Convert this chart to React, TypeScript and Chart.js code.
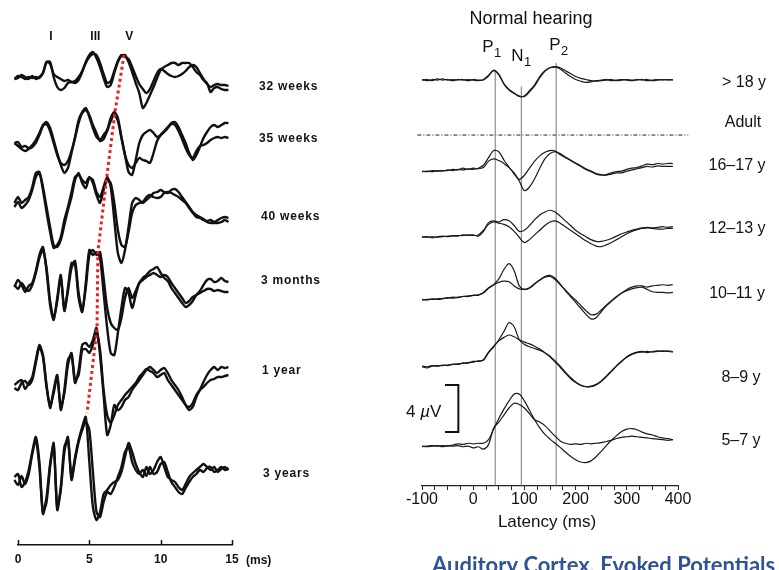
import { useEffect, useRef } from "react";
import { Chart, registerables } from "chart.js";

Chart.register(...registerables);

const FONT = '"Liberation Sans", Arial, Helvetica, sans-serif';

// ---------- Brainstem responses (left panel) ----------
const abrLatencyMs = [
  -0.25, 0, 0.25, 0.5, 0.75, 1, 1.25, 1.5, 1.75, 2, 2.25, 2.5, 2.75, 3, 3.25, 3.5, 3.75, 4, 4.25, 4.5,
  4.75, 5, 5.25, 5.5, 5.75, 6, 6.25, 6.5, 6.75, 7, 7.25, 7.5, 7.75, 8, 8.25, 8.5, 8.75, 9, 9.25, 9.5,
  9.75, 10, 10.25, 10.5, 10.75, 11, 11.25, 11.5, 11.75, 12, 12.25, 12.5, 12.75, 13, 13.25, 13.5, 13.75, 14, 14.25, 14.5,
  14.75,
];
const abrAgeLabels = ["32 weeks", "35 weeks", "40 weeks", "3 months", "1 year", "3 years"];
const abrTicks = [0, 5, 10, 15];
const abrPeakNames = ["I", "III", "V"];
const abrPeakLatency = [2.3, 5.42, 7.79];

const abr32wA = [0, 3, 2, 0, 2, 1, 2, 1, 6, 17, 17, 2, -8, -11, -9, -4, -3, -4, -1, 7, 17, 24, 27, 21, 12, 1, -8, -6, 6, 17, 23, 24, 17, 7, -4, -14, -29, -24, -16, -8, 1, 9, 12, 14, 16, 16, 14, 16, 16, 16, 12, 7, 4, -1, -4, -13, -9, -8, -10, -11, -11];
const abr32wB = [0, 1, 4, 2, 0, 3, 0, 2, 6, 17, 15, 5, 2, 0, -2, -1, -3, -2, 2, 8, 16, 22, 25, 24, 16, 5, -4, -2, 8, 18, 24, 22, 20, 12, 3, -5, -10, -14, -10, -2, 6, 10, 8, 5, 3, 2, 3, 5, 8, 12, 14, 12, 6, 0, -5, -8, -6, -5, -6, -6, -7];
const abr35wA = [0, 1, -4, -3, -5, -2, 3, 10, 18, 21, 15, 3, -10, -22, -30, -25, -10, 6, 23, 31, 35, 26, 15, 6, 3, 8, 13, 25, 31, 25, 6, -12, -29, -32, -17, 0, 8, 11, 13, 10, 6, 8, 11, 15, 20, 21, 16, 8, 0, -10, -17, -12, -4, 5, 11, 16, 18, 16, 18, 20, 20];
const abr35wB = [0, -3, -6, -8, -6, -4, 0, 8, 17, 19, 12, 0, -12, -20, -22, -18, -8, 5, 20, 30, 33, 28, 18, 10, 2, 4, 12, 22, 28, 22, 5, -12, -22, -25, -20, -15, -17, -18, -20, -10, 2, 8, 12, 16, 19, 18, 12, 4, -5, -12, -15, -8, -3, -2, 0, 3, 5, 6, 5, 6, 5];
const abr40wA = [2, 8, 2, 5, 8, 18, 32, 33, 18, -2, -22, -40, -42, -35, -20, -5, 8, 25, 32, 22, 17, 27, 25, 13, 8, 18, 28, 18, -15, -48, -58, -45, -22, 2, 7, 5, 2, 5, 8, 12, 13, 15, 13, 12, 15, 16, 13, 8, 3, -2, -7, -10, -12, -14, -17, -18, -18, -18, -17, -15, -17];
const abr40wB = [-2, 3, -3, 0, 5, 15, 28, 32, 15, -7, -27, -43, -40, -32, -15, -2, 13, 28, 30, 25, 22, 28, 22, 10, 2, 15, 25, 22, 2, -25, -40, -42, -27, -8, 0, 2, 3, 8, 10, 8, 7, 8, 12, 13, 12, 10, 8, 5, 2, -3, -8, -12, -13, -15, -16, -15, -17, -15, -13, -12, -13];
const abr3mA = [-4, 3, -2, -9, -3, 0, 12, 28, 36, 12, -22, -37, -15, 8, -28, -5, 20, 18, -15, -29, 0, 33, 28, 31, 25, -10, -45, -70, -72, -50, -25, -5, -10, -25, -12, 0, 5, 8, 12, 14, 16, 10, 5, 2, -5, -10, -15, -20, -24, -22, -18, -12, -8, -2, 3, 4, 1, 2, 5, 2, 1];
const abr3mB = [-2, -6, 0, -5, -8, -2, 10, 25, 33, 15, -18, -35, -18, 5, -26, -8, 15, 22, -10, -27, -5, 28, 33, 28, 31, 5, -25, -40, -45, -47, -35, -15, -5, -15, -8, 0, 3, 6, 8, 10, 8, 6, 8, 6, 0, -5, -10, -15, -20, -18, -14, -12, -10, -8, -6, -6, -8, -7, -8, -9, -9];
const abr1yA = [0, 3, 5, -4, 2, 8, 25, 40, 30, 0, -23, -5, 10, -25, -5, 25, 30, 2, 15, 40, 42, 38, 45, 57, 30, -10, -50, -40, -20, -25, -22, -15, -12, -5, 0, 5, 10, 15, 18, 15, 12, 15, 17, 12, 5, 0, -5, -12, -20, -25, -22, -12, -5, 3, 10, 15, 18, 15, 18, 17, 18];
const abr1yB = [-3, -5, 2, 4, 0, 5, 22, 38, 28, -2, -20, -8, 8, -22, -8, 20, 32, 5, 10, 35, 36, 32, 40, 52, 35, -5, -30, -38, -30, -20, -15, -10, -6, -2, 2, 8, 12, 16, 14, 12, 8, 10, 12, 5, 0, -5, -10, -15, -20, -22, -18, -10, -5, -2, 2, 5, 6, 8, 8, 9, 10];
const abr3yA = [5, 8, -5, 0, 12, 30, 45, 20, -30, -20, 15, 39, -28, -5, 35, 42, 5, 25, 42, 55, 65, 20, -25, -38, -30, -12, -8, -3, 0, 2, 10, 25, 39, 30, 18, 10, 5, 15, 8, 12, 20, 25, 15, 5, 2, 0, -5, -8, -2, 5, 9, 12, 15, 18, 15, 12, 15, 10, 13, 15, 12];
const abr3yB = [2, -3, 6, -2, 8, 28, 42, 15, -32, -15, 18, 36, -25, -8, 30, 45, 2, 22, 40, 52, 60, 52, 10, -30, -35, -20, -10, -12, -5, 5, 15, 30, 35, 20, 12, 8, 12, 6, 15, 8, 10, 18, 20, 10, 0, -5, -10, -12, -6, 0, 5, 8, 12, 10, 14, 15, 10, 12, 15, 12, 14];

// wave V peak of each age group (latency, amplitude)
const abrWaveVLatency = [7.43, 6.8, 6.24, 5.6, 5.54, 4.84];
const abrWaveVAmplitude = [24, 31, 30, 31, 57, 69];

// ---------- Cortical responses (right panel) ----------
const caepLatencyMs = [
  -100, -90, -80, -70, -60, -50, -40, -30, -20, -10, 0, 10, 20, 30, 40, 50, 60, 70, 80, 90,
  100, 110, 120, 130, 140, 150, 160, 170, 180, 190, 200, 210, 220, 230, 240, 250, 260, 270, 280, 290,
  300, 310, 320, 330, 340, 350, 360, 370, 380, 390,
];
const caepAgeLabels = ["> 18 y", "16–17 y", "12–13 y", "10–11 y", "8–9 y", "5–7 y"];
const caepComponentNames = ["P1", "N1", "P2"];
const caepComponentLatency = [43, 94, 162];
const caepComponentTop = [35.4, 34.0, 36.0];
const caepTicks = [-100, 0, 100, 200, 300, 400];

const caepAdultA = [0, 0.05, -0.05, 0.1, 0, 0.05, -0.05, 0.05, 0, 0.05, 0, -0.05, 0.05, 0.4, 0.85, 0.5, -0.3, -0.8, -1.1, -1.4, -1.35, -0.9, -0.4, 0.3, 0.8, 1.05, 1.1, 0.95, 0.6, 0.3, 0.05, -0.1, -0.2, -0.15, -0.05, 0, 0.05, -0.05, 0, 0.05, 0, -0.05, 0.05, 0, 0.05, -0.05, 0, 0.05, 0, 0.05];
const caepAdultB = [0.05, -0.05, 0.05, 0, 0.1, 0, 0.05, 0, 0.05, -0.05, 0.05, 0, 0, 0.35, 0.8, 0.45, -0.35, -0.85, -1.15, -1.35, -1.4, -1.0, -0.5, 0.2, 0.75, 1.05, 1.15, 1.05, 0.8, 0.55, 0.3, 0.15, 0.05, -0.05, -0.1, -0.05, 0, 0.05, -0.05, 0, 0.05, 0, 0, 0.05, -0.05, 0, 0.05, 0, 0.05, 0];
const caep1617A = [0, 0.05, 0, 0.1, 0.05, 0.15, 0.1, 0.2, 0.15, 0.25, 0.2, 0.3, 0.55, 1.2, 1.8, 1.7, 1.0, 0.4, -0.2, -0.65, -0.3, 0.3, 0.9, 1.35, 1.65, 1.8, 1.75, 1.45, 1.2, 0.95, 0.7, 0.45, 0.2, 0, -0.2, -0.3, -0.25, -0.1, 0, 0.05, 0.2, 0.3, 0.35, 0.5, 0.65, 0.6, 0.7, 0.65, 0.7, 0.7];
const caep1617B = [0.05, 0, 0.1, 0.05, 0.1, 0.1, 0.2, 0.15, 0.3, 0.2, 0.3, 0.25, 0.35, 0.9, 1.1, 0.95, 0.7, 0.35, -0.1, -0.8, -1.6, -1.3, -0.6, 0.3, 1.1, 1.55, 1.7, 1.55, 1.25, 1.0, 0.75, 0.5, 0.25, 0.05, -0.15, -0.25, -0.3, -0.2, -0.1, -0.1, 0.05, 0.15, 0.25, 0.35, 0.45, 0.4, 0.5, 0.45, 0.45, 0.45];
const caep1213A = [0, 0.05, -0.05, 0.05, 0.1, 0.05, 0.15, 0.1, 0.2, 0.15, 0.2, 0.1, 0.5, 1.25, 1.4, 1.3, 1.5, 1.4, 1.0, 0.5, 0.6, 1.0, 1.5, 1.9, 2.15, 2.3, 2.15, 1.8, 1.4, 1.0, 0.6, 0.3, 0.05, -0.2, -0.35, -0.35, -0.25, -0.1, 0.1, 0.3, 0.45, 0.6, 0.7, 0.8, 0.85, 0.8, 0.85, 0.9, 0.85, 0.9];
const caep1213B = [0.05, 0, 0.05, 0, 0.05, 0.1, 0.1, 0.15, 0.15, 0.2, 0.15, 0.2, 0.6, 1.1, 1.3, 1.2, 1.1, 0.9, 0.5, 0.0, -0.45, -0.2, 0.2, 0.6, 1.0, 1.3, 1.4, 1.2, 0.9, 0.6, 0.3, 0.0, -0.3, -0.55, -0.75, -0.8, -0.65, -0.45, -0.2, 0.05, 0.3, 0.5, 0.65, 0.75, 0.8, 0.75, 0.7, 0.7, 0.75, 0.75];
const caep1011A = [0, 0.05, 0.05, 0.1, 0.15, 0.15, 0.25, 0.2, 0.3, 0.35, 0.4, 0.45, 0.6, 1.0, 1.3, 1.8, 2.6, 3.1, 2.5, 1.2, 0.9, 1.0, 1.35, 1.7, 2.0, 2.1, 1.85, 1.35, 0.8, 0.3, -0.2, -0.7, -1.2, -1.6, -1.5, -1.0, -0.5, -0.1, 0.25, 0.6, 0.9, 1.1, 1.2, 1.2, 1.1, 1.2, 1.25, 1.3, 1.25, 1.3];
const caep1011B = [0.05, 0, 0.1, 0.05, 0.1, 0.2, 0.15, 0.25, 0.3, 0.3, 0.4, 0.4, 0.65, 1.05, 1.3, 1.5, 1.6, 1.55, 1.2, 0.95, 0.9, 1.05, 1.4, 1.7, 1.95, 2.0, 1.75, 1.3, 0.85, 0.4, 0.0, -0.45, -0.9, -1.25, -1.2, -0.85, -0.45, -0.05, 0.3, 0.6, 0.8, 0.95, 1.05, 1.1, 0.9, 0.7, 0.65, 0.65, 0.6, 0.65];
const caep89A = [0, -0.1, 0.05, 0.1, 0.1, 0.15, 0.2, 0.25, 0.3, 0.35, 0.4, 0.5, 0.55, 1.2, 1.7, 2.3, 3.0, 3.75, 3.4, 2.3, 1.9, 1.7, 1.55, 1.4, 1.2, 0.85, 0.4, -0.05, -0.55, -1.0, -1.35, -1.6, -1.7, -1.65, -1.5, -1.2, -0.8, -0.35, 0.1, 0.5, 0.85, 1.1, 1.25, 1.3, 1.2, 1.3, 1.35, 1.3, 1.35, 1.3];
const caep89B = [0.05, 0, 0.1, 0.05, 0.15, 0.1, 0.2, 0.2, 0.3, 0.3, 0.45, 0.45, 0.6, 1.25, 1.75, 2.2, 2.5, 2.7, 2.55, 2.3, 2.1, 1.95, 1.75, 1.5, 1.2, 0.9, 0.5, 0.05, -0.45, -0.9, -1.3, -1.55, -1.7, -1.7, -1.55, -1.25, -0.85, -0.4, 0.05, 0.45, 0.8, 1.05, 1.2, 1.25, 1.3, 1.25, 1.3, 1.35, 1.3, 1.25];
const caep57A = [0, 0.05, 0.1, 0.05, 0.1, 0.05, 0.15, 0.25, 0.2, 0.3, 0.25, 0.3, 0.3, 0.6, 1.5, 2.4, 3.2, 3.9, 4.5, 4.5, 3.9, 3.1, 2.3, 1.6, 1.05, 0.65, 0.3, -0.05, -0.45, -0.8, -1.1, -1.3, -1.35, -1.2, -0.85, -0.4, 0.1, 0.55, 0.95, 1.3, 1.5, 1.55, 1.45, 1.25, 1.1, 1.0, 0.85, 0.75, 0.7, 0.6];
const caep57B = [0.05, 0, 0.05, 0.1, 0, 0.1, 0.05, 0.1, 0, 0.05, -0.1, 0, -0.2, 0.2, 1.6, 2.1, 2.7, 3.3, 3.7, 3.6, 3.3, 2.8, 2.3, 2.1, 1.8, 1.35, 0.9, 0.5, 0.3, 0.2, 0.25, 0.2, 0.3, 0.25, 0.3, 0.35, 0.45, 0.55, 0.7, 0.8, 0.85, 0.9, 0.85, 0.8, 0.75, 0.7, 0.65, 0.6, 0.55, 0.6];

// ---------- layout (stacking of the rows and label placement) ----------
const abrRows = [[abr32wA, abr32wB], [abr35wA, abr35wB], [abr40wA, abr40wB], [abr3mA, abr3mB], [abr1yA, abr1yB], [abr3yA, abr3yB]];
const abrRowOffset = [466, 402, 340, 262, 160, 63];
const abrLabelX = [259, 259, 261, 261, 262, 263];
const abrLabelY = [89.5, 141.5, 220, 284, 374, 476.5];

const caepRows = [[caepAdultA, caepAdultB], [caep1617A, caep1617B], [caep1213A, caep1213B], [caep1011A, caep1011B], [caep89A, caep89B], [caep57A, caep57B]];
const caepRowOffset = [34.55, 26.75, 21.17, 15.83, 10.15, 3.34];
const caepLabelX = [364, 357, 357, 357, 361, 361];
const caepLabelY = [86.5, 170, 233, 298, 381.5, 445];
const caepLabelShift = [-13, -10, -7];
const caepLabelBase = [52, 61, 50];
const adultDivider = 29.87;
const scaleBarTop = 8.6;
const scaleBarSpan = 4;

const abrAnnotations = {
  id: "abrAnnotations",
  afterDraw(chart: any) {
    const { ctx, chartArea } = chart;
    const x = chart.scales.x;
    ctx.save();
    ctx.fillStyle = "#111";
    ctx.strokeStyle = "#111";
    ctx.lineWidth = 1.5;
    abrTicks.forEach((t) => {
      const px = Math.round(x.getPixelForValue(t)) + 0.5;
      ctx.beginPath();
      ctx.moveTo(px, chartArea.bottom);
      ctx.lineTo(px, chartArea.bottom - 5);
      ctx.stroke();
    });
    ctx.font = `bold 12px ${FONT}`;
    ctx.textAlign = "left";
    ctx.textBaseline = "alphabetic";
    ctx.fillText("(ms)", x.getPixelForValue(15) + 14, 564);
    ctx.font = `bold 12px ${FONT}`;
    ctx.textAlign = "center";
    abrPeakNames.forEach((n, i) => ctx.fillText(n, x.getPixelForValue(abrPeakLatency[i]), 40));
    ctx.font = `bold 12px ${FONT}`;
    ctx.textAlign = "left";
    ctx.letterSpacing = "0.8px";
    abrAgeLabels.forEach((l, i) => ctx.fillText(l, abrLabelX[i], abrLabelY[i]));
    ctx.restore();
  },
};

const caepAnnotations = {
  id: "caepAnnotations",
  afterDraw(chart: any) {
    const { ctx } = chart;
    const x = chart.scales.x;
    ctx.save();
    ctx.fillStyle = "#111";
    ctx.textBaseline = "alphabetic";
    ctx.font = `18px ${FONT}`;
    ctx.textAlign = "center";
    ctx.fillText("Normal hearing", 151, 24);

    ctx.textAlign = "left";
    caepComponentNames.forEach((name, i) => {
      const px = x.getPixelForValue(caepComponentLatency[i]) + caepLabelShift[i];
      ctx.font = `17px ${FONT}`;
      ctx.fillText(name[0], px, caepLabelBase[i]);
      const w = ctx.measureText(name[0]).width;
      ctx.font = `13px ${FONT}`;
      ctx.fillText(name.slice(1), px + w + 0.5, caepLabelBase[i] + 5);
    });

    ctx.font = `16px ${FONT}`;
    ctx.textAlign = "center";
    caepAgeLabels.forEach((l, i) => ctx.fillText(l, caepLabelX[i], caepLabelY[i]));
    ctx.fillText("Adult", 363, 126.5);

    ctx.font = `17px ${FONT}`;
    ctx.fillText("Latency (ms)", 167, 527);

    ctx.textAlign = "left";
    let cx = 26;
    ctx.font = `17px ${FONT}`;
    ctx.fillText("4 ", cx, 416.5);
    cx += ctx.measureText("4 ").width;
    ctx.font = `italic 17px ${FONT}`;
    ctx.fillText("\u00b5", cx, 416.5);
    cx += ctx.measureText("\u00b5").width;
    ctx.font = `17px ${FONT}`;
    ctx.fillText("V", cx, 416.5);

    ctx.font = `bold 22px Lato, "Open Sans", sans-serif`;
    ctx.fillStyle = "#2f5496";
    ctx.fillText("Auditory Cortex, Evoked Potentials", 52, 573);
    ctx.restore();
  },
};

function abrConfig(): any {
  const traces = abrRows.flatMap((pair, r) =>
    pair.map((vals) => ({
      data: vals.map((v, i) => ({ x: abrLatencyMs[i], y: abrRowOffset[r] + v })),
      borderColor: "#111",
      borderWidth: 2.4,
      pointRadius: 0,
      tension: 0.25,
      fill: false,
      clip: false,
    }))
  );
  const waveV = {
    data: abrWaveVLatency.map((l, i) => ({ x: l, y: abrRowOffset[i] + abrWaveVAmplitude[i] })),
    borderColor: "#ee1d23",
    borderWidth: 3,
    borderDash: [3, 3],
    pointRadius: 0,
    tension: 0,
    fill: false,
    clip: false,
  };
  return {
    type: "line",
    data: { datasets: [waveV, ...traces] },
    options: {
      responsive: false,
      animation: false,
      events: [],
      layout: { padding: { left: 18, right: 148, top: 30, bottom: 0 } },
      plugins: { legend: { display: false }, tooltip: { enabled: false } },
      scales: {
        x: {
          type: "linear",
          min: 0,
          max: 15,
          afterFit: (s: any) => { s.height = 25; },
          grid: { display: false, drawTicks: false },
          border: { display: true, color: "#111", width: 1.5 },
          ticks: { stepSize: 5, padding: 7, maxRotation: 0, color: "#111", font: { family: FONT, size: 12, weight: "bold" } },
        },
        y: { display: false, min: 0, max: 515 },
      },
    },
    plugins: [abrAnnotations],
  };
}

function caepConfig(): any {
  const traces = caepRows.flatMap((pair, r) =>
    pair.map((vals) => ({
      data: vals.map((v, i) => ({ x: caepLatencyMs[i], y: caepRowOffset[r] + v })),
      borderColor: "#1a1a1a",
      borderWidth: 1.2,
      pointRadius: 0,
      tension: 0.3,
      fill: false,
      clip: false,
    }))
  );
  const markers = caepComponentLatency.map((l, i) => ({
    data: [{ x: l, y: 0 }, { x: l, y: caepComponentTop[i] }],
    borderColor: "#666",
    borderWidth: 0.9,
    pointRadius: 0,
    fill: false,
  }));
  const divider = {
    data: [{ x: -109, y: adultDivider }, { x: 420, y: adultDivider }],
    borderColor: "#222",
    borderWidth: 1,
    borderDash: [4, 2, 1, 2],
    pointRadius: 0,
    fill: false,
    clip: false,
  };
  const scaleBar = {
    data: [
      { x: -55, y: scaleBarTop },
      { x: -29, y: scaleBarTop },
      { x: -29, y: scaleBarTop - scaleBarSpan },
      { x: -55, y: scaleBarTop - scaleBarSpan },
    ],
    borderColor: "#111",
    borderWidth: 2,
    pointRadius: 0,
    tension: 0,
    fill: false,
  };
  return {
    type: "line",
    data: { datasets: [...traces, ...markers, divider, scaleBar] },
    options: {
      responsive: false,
      animation: false,
      events: [],
      layout: { padding: { left: 42, right: 101, top: 40, bottom: 54 } },
      plugins: { legend: { display: false }, tooltip: { enabled: false } },
      scales: {
        x: {
          type: "linear",
          min: -100,
          max: 400,
          afterFit: (s: any) => { s.height = 30; },
          grid: { display: true, drawOnChartArea: false, drawTicks: true, tickLength: 4, color: "#222", lineWidth: 1 },
          border: { display: true, color: "#222", width: 1.2 },
          ticks: {
            stepSize: 25,
            autoSkip: false,
            maxRotation: 0,
            minRotation: 0,
            padding: 0,
            color: "#111",
            font: { family: FONT, size: 16 },
            callback: (v: any) => (caepTicks.includes(Number(v)) ? String(v) : ""),
          },
        },
        y: { display: false, min: 0, max: 37.96 },
      },
    },
    plugins: [caepAnnotations],
  };
}

export default function App() {
  const leftRef = useRef<HTMLCanvasElement>(null);
  const rightRef = useRef<HTMLCanvasElement>(null);

  useEffect(() => {
    const left = new Chart(leftRef.current as HTMLCanvasElement, abrConfig());
    const right = new Chart(rightRef.current as HTMLCanvasElement, caepConfig());
    return () => {
      left.destroy();
      right.destroy();
    };
  }, []);

  return (
    <div style={{ position: "fixed", left: 0, top: 0, width: 779, height: 570, overflow: "hidden", background: "#fff" }}>
      <canvas ref={leftRef} width={380} height={570} style={{ position: "absolute", left: 0, top: 0, width: 380, height: 570 }} />
      <canvas ref={rightRef} width={399} height={570} style={{ position: "absolute", left: 380, top: 0, width: 399, height: 570 }} />
    </div>
  );
}
